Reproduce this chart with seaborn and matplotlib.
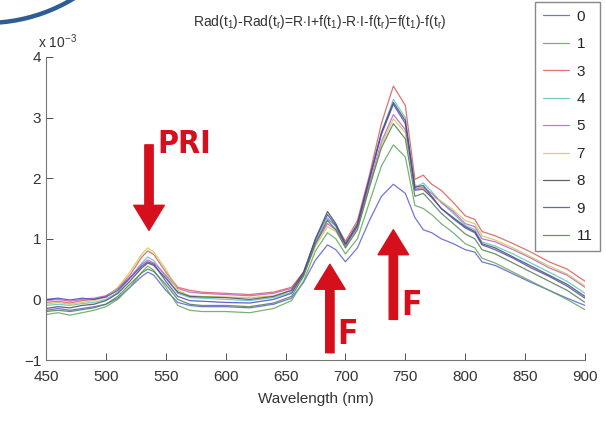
import seaborn as sns
import matplotlib.pyplot as plt
import pandas as pd
import numpy as np
from matplotlib.patches import Ellipse

# Wavelength grid (nm) and spectra (x 1e-3)
wavelength = [450, 460, 470, 480, 490, 500, 510, 520, 530, 535, 540, 550, 560, 570, 580,
              600, 620, 640, 655, 665, 675, 685, 692, 700, 710, 720, 730, 740, 750, 758,
              765, 772, 780, 790, 800, 808, 814, 825, 840, 855, 870, 885, 900]

s0 = [-0.18, -0.15, -0.18, -0.15, -0.12, -0.08, 0.02, 0.2, 0.38, 0.45, 0.4, 0.15, -0.05, -0.1, -0.12,
      -0.12, -0.14, -0.08, 0.02, 0.28, 0.65, 0.9, 0.82, 0.62, 0.85, 1.3, 1.7, 1.9, 1.75, 1.35,
      1.15, 1.1, 1.0, 0.92, 0.82, 0.78, 0.62, 0.56, 0.42, 0.28, 0.15, 0.02, -0.1]
s1 = [-0.25, -0.22, -0.26, -0.22, -0.18, -0.12, 0.0, 0.2, 0.45, 0.55, 0.48, 0.2, -0.1, -0.18, -0.2,
      -0.2, -0.22, -0.15, -0.02, 0.3, 0.8, 1.1, 1.0, 0.75, 1.0, 1.6, 2.2, 2.55, 2.35, 1.55,
      1.5, 1.4, 1.25, 1.1, 0.92, 0.85, 0.68, 0.6, 0.45, 0.3, 0.15, 0.0, -0.17]
s3 = [-0.05, -0.03, -0.06, -0.02, 0.0, 0.05, 0.18, 0.4, 0.7, 0.8, 0.74, 0.45, 0.2, 0.15, 0.12,
      0.1, 0.08, 0.12, 0.2, 0.45, 0.95, 1.32, 1.22, 0.96, 1.3, 2.05, 2.9, 3.52, 3.2, 1.98,
      2.05, 1.9, 1.8, 1.6, 1.38, 1.32, 1.12, 1.05, 0.92, 0.78, 0.62, 0.5, 0.3]
s4 = [-0.1, -0.08, -0.1, -0.07, -0.05, 0.0, 0.12, 0.35, 0.6, 0.7, 0.64, 0.38, 0.1, 0.03, 0.02,
      0.0, -0.02, 0.03, 0.12, 0.4, 0.95, 1.35, 1.2, 0.86, 1.2, 1.95, 2.75, 3.3, 3.0, 1.85,
      1.92, 1.78, 1.6, 1.42, 1.22, 1.15, 0.95, 0.88, 0.75, 0.6, 0.45, 0.3, 0.1]
s5 = [-0.02, 0.0, -0.03, 0.0, 0.02, 0.06, 0.18, 0.36, 0.58, 0.65, 0.6, 0.4, 0.18, 0.12, 0.1,
      0.08, 0.06, 0.1, 0.18, 0.42, 0.92, 1.25, 1.15, 0.9, 1.2, 1.9, 2.6, 3.05, 2.8, 1.82,
      1.85, 1.75, 1.6, 1.45, 1.25, 1.2, 1.0, 0.95, 0.82, 0.68, 0.52, 0.4, 0.2]
s7 = [-0.08, -0.05, -0.08, -0.05, -0.02, 0.03, 0.2, 0.45, 0.75, 0.85, 0.78, 0.5, 0.15, 0.06, 0.05,
      0.04, 0.03, 0.06, 0.15, 0.4, 0.88, 1.2, 1.12, 0.88, 1.15, 1.85, 2.55, 2.98, 2.75, 1.9,
      1.8, 1.7, 1.62, 1.48, 1.3, 1.25, 1.05, 0.98, 0.85, 0.7, 0.55, 0.42, 0.22]
s8 = [-0.15, -0.12, -0.14, -0.1, -0.08, -0.02, 0.1, 0.3, 0.52, 0.6, 0.56, 0.35, 0.12, 0.05, 0.04,
      0.03, 0.0, 0.05, 0.15, 0.45, 1.0, 1.45, 1.25, 0.92, 1.25, 2.0, 2.75, 3.25, 2.95, 1.85,
      1.88, 1.7, 1.5, 1.35, 1.2, 1.12, 0.92, 0.85, 0.7, 0.55, 0.4, 0.25, 0.05]
s9 = [0.0, 0.02, -0.01, 0.02, 0.0, 0.04, 0.15, 0.35, 0.55, 0.62, 0.58, 0.3, 0.05, -0.02, -0.03,
      -0.05, -0.06, 0.0, 0.1, 0.42, 1.0, 1.4, 1.22, 0.9, 1.22, 1.98, 2.72, 3.22, 2.9, 1.8,
      1.82, 1.68, 1.5, 1.33, 1.18, 1.1, 0.9, 0.82, 0.68, 0.52, 0.38, 0.22, 0.02]
s11 = [-0.2, -0.18, -0.2, -0.17, -0.14, -0.08, 0.05, 0.25, 0.44, 0.5, 0.46, 0.25, 0.0, -0.08, -0.1,
       -0.1, -0.12, -0.06, 0.05, 0.38, 0.92, 1.3, 1.15, 0.85, 1.15, 1.85, 2.5, 2.9, 2.65, 1.7,
       1.75, 1.6, 1.42, 1.25, 1.08, 1.0, 0.82, 0.75, 0.6, 0.45, 0.3, 0.15, -0.05]

labels = ['0', '1', '3', '4', '5', '7', '8', '9', '11']
series = [s0, s1, s3, s4, s5, s7, s8, s9, s11]
colors = ['#5b5bd6', '#5ea65e', '#d85a5a', '#5cc4c4', '#c25cc2', '#c9c95a', '#4a4a4a', '#4848c0', '#4f7f4f']

rows = []
for lab, vals in zip(labels, series):
    for w, v in zip(wavelength, vals):
        rows.append({'Wavelength': w, 'Value': v, 'Time': lab})
df = pd.DataFrame(rows)

sns.set_style("ticks")
plt.rcParams['font.family'] = ['Liberation Sans', 'DejaVu Sans']
plt.rcParams['mathtext.fontset'] = 'custom'
plt.rcParams['mathtext.rm'] = 'Liberation Sans'
plt.rcParams['mathtext.it'] = 'Liberation Sans'

fig = plt.figure(figsize=(6.06, 4.26), dpi=100)
ax = fig.add_axes([46 / 606, 1 - 360 / 426, 539 / 606, 303 / 426])

sns.lineplot(data=df, x='Wavelength', y='Value', hue='Time', hue_order=labels,
             palette=dict(zip(labels, colors)), linewidth=0.9, alpha=0.85,
             sort=False, ax=ax, legend=True)

ax.set_xlim(450, 900)
ax.set_ylim(-1, 4)
ax.set_xticks(range(450, 901, 50))
ax.set_yticks(range(-1, 5))
ax.tick_params(direction='in', length=5, width=0.6, labelsize=11, colors='#333333')
ax.tick_params(axis='x', pad=7)
for side in ['top', 'right']:
    ax.spines[side].set_visible(False)
for side in ['left', 'bottom']:
    ax.spines[side].set_linewidth(0.8)
    ax.spines[side].set_color('#777777')
ax.set_xlabel('Wavelength (nm)', fontsize=11, color='#333333', labelpad=6)
ax.set_ylabel('')

fig.text(38 / 606, 1 - 48 / 426, r'x 10$^{-3}$', fontsize=10, color='#333333', va='baseline')
fig.text(320 / 606, 1 - 26 / 426,
         r'Rad(t$_1$)-Rad(t$_r$)=R$\cdot$I+f(t$_1$)-R$\cdot$I-f(t$_r$)=f(t$_1$)-f(t$_r$)',
         fontsize=10, color='#333333', ha='center', va='baseline')

# legend in the top right corner, extending above the axes
handles, labs = ax.get_legend_handles_labels()
ax.legend(handles, labs, loc='upper right', bbox_to_anchor=(600 / 606, 424 / 426),
          bbox_transform=fig.transFigure, borderaxespad=0, fontsize=11, frameon=True,
          fancybox=False, edgecolor='#888888', framealpha=1, handlelength=1.7,
          handletextpad=0.5, labelspacing=0.88, borderpad=0.5, title=None)

# red annotation arrows
red = '#d5101c'
arrow = dict(width=6, headwidth=22, headlength=18, color=red, shrink=0)
ax.annotate('', xy=(536, 1.14), xytext=(536, 2.55), arrowprops=arrow)
ax.annotate('', xy=(687, 0.58), xytext=(687, -0.88), arrowprops=arrow)
ax.annotate('', xy=(740, 1.15), xytext=(740, -0.33), arrowprops=arrow)
ax.text(543, 2.3, 'PRI', color=red, fontsize=23, fontweight='bold', fontstretch='condensed',
        family=['DejaVu Sans'], va='bottom')
ax.text(693, -0.85, 'F', color=red, fontsize=24, fontweight='bold', fontstretch='condensed',
        family=['DejaVu Sans'], va='bottom')
ax.text(747, -0.37, 'F', color=red, fontsize=24, fontweight='bold', fontstretch='condensed',
        family=['DejaVu Sans'], va='bottom')

# blue decorative arc in the top-left corner
fig.add_artist(Ellipse((-14 / 606, 572 / 426), 2 * 169 / 606, 2 * 169 / 426,
                       transform=fig.transFigure, fill=False, lw=3.2, color='#2e5c94'))

fig.savefig('out.png', dpi=100)
